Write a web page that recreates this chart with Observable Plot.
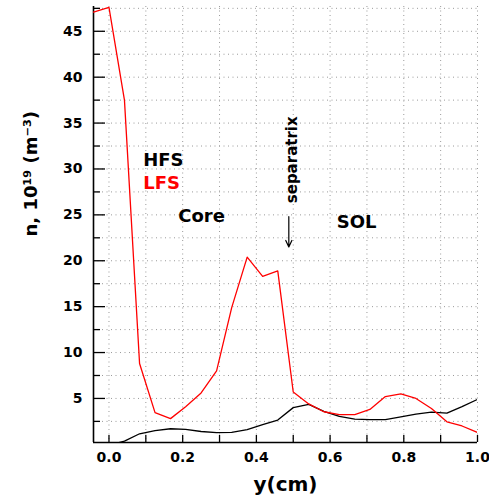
<!DOCTYPE html>
<html>
<head>
<meta charset="utf-8">
<script src="https://cdn.jsdelivr.net/npm/d3@7"></script>
<script src="https://cdn.jsdelivr.net/npm/@observablehq/plot@0.6"></script>
<style>
  html, body { margin: 0; padding: 0; background: #fff; }
  svg { display: block; }
</style>
</head>
<body>
<div id="chart"></div>
<script>
// radial position y (cm)
const yPos = [-0.042, 0, 0.042, 0.083, 0.125, 0.167, 0.208, 0.25, 0.292, 0.333, 0.375, 0.417, 0.458,
              0.5, 0.542, 0.583, 0.625, 0.667, 0.708, 0.75, 0.792, 0.833, 0.875, 0.917, 0.958, 1.0];
// density, 10^19 m^-3
const lfs = [47.1, 47.6, 37.5, 8.8, 3.45, 2.8, 4.1, 5.6, 8.0, 14.9, 20.4, 18.3, 18.9,
             5.7, 4.4, 3.55, 3.24, 3.24, 3.8, 5.2, 5.5, 5.0, 3.9, 2.45, 2.0, 1.3];
const hfs = [null, -0.1, 0.35, 1.15, 1.5, 1.7, 1.62, 1.4, 1.27, 1.3, 1.6, 2.15, 2.65,
             4.0, 4.36, 3.6, 3.05, 2.75, 2.69, 2.69, 3.0, 3.3, 3.52, 3.4, 4.1, 4.9];

const xTickLabels = [0, 0.2, 0.4, 0.6, 0.8, 1.0];
const xTicks = [0, 0.1, 0.2, 0.3, 0.4, 0.5, 0.6, 0.7, 0.8, 0.9, 1.0];
const yTickLabels = [5, 10, 15, 20, 25, 30, 35, 40, 45];
const yMinorTicks = [2.5, 7.5, 12.5, 17.5, 22.5, 27.5, 32.5, 37.5, 42.5, 47.5];
const yGrid = [2.5, 5, 7.5, 10, 12.5, 15, 17.5, 20, 22.5, 25, 27.5, 30, 32.5, 35, 37.5, 40, 42.5, 45, 47.5];

const legendLabels = [{text: "HFS", color: "#000000", x: 0.093, y: 31.0},
                      {text: "LFS", color: "#ff0000", x: 0.093, y: 28.5}];
const regionLabels = [{text: "Core", x: 0.188, y: 24.8}, {text: "SOL", x: 0.618, y: 24.2}];
const separatrix = [{text: "separatrix", x: 0.497, y: 31.0, y1: 24.8, y2: 21.5, xa: 0.488}];

const hfsData = yPos.map((x, i) => ({x, n: hfs[i]}));
const lfsData = yPos.map((x, i) => ({x, n: lfs[i]}));

const W = 489, H = 502;
const mL = 93, mR = 12, mT = 6, mB = 60;
const plotW = W - mL - mR, plotH = H - mT - mB;

const chart = Plot.plot({
  width: W,
  height: H,
  marginLeft: mL,
  marginRight: mR,
  marginTop: mT,
  marginBottom: mB,
  style: {fontFamily: "'DejaVu Sans', sans-serif", background: "#fff", color: "#000", overflow: "visible"},
  x: {domain: [-0.042, 1.0], axis: null},
  y: {domain: [0.2, 47.7], axis: null},
  marks: [
    Plot.gridX(xTicks, {stroke: "#9a9a9a", strokeOpacity: 1, strokeDasharray: "1,3.5", strokeWidth: 1}),
    Plot.gridY(yGrid, {stroke: "#9a9a9a", strokeOpacity: 1, strokeDasharray: "1,3.5", strokeWidth: 1}),
    // inward ticks
    Plot.ruleX(xTicks, {stroke: "#000", strokeWidth: 1.3, insetTop: plotH - 7}),
    Plot.ruleY(yTickLabels, {stroke: "#000", strokeWidth: 1.3, insetRight: plotW - 12}),
    Plot.ruleY(yMinorTicks, {stroke: "#000", strokeWidth: 1.3, insetRight: plotW - 7}),
    // axis lines
    Plot.ruleX([-0.042], {stroke: "#000", strokeWidth: 1.6}),
    Plot.ruleY([0.2], {stroke: "#000", strokeWidth: 1.6}),
    // tick labels
    Plot.axisX({ticks: xTickLabels, tickSize: 0, tickPadding: 10, tickFormat: d3.format(".1f"),
                fontSize: 14, fontWeight: "bold", label: null, ariaLabel: "xticklabels"}),
    Plot.axisY({ticks: yTickLabels, tickSize: 0, tickPadding: 11, fontSize: 14,
                fontWeight: "bold", label: null, ariaLabel: "yticklabels"}),
    // series
    Plot.line(hfsData, {x: "x", y: "n", stroke: "#000", strokeWidth: 1.3, clip: true}),
    Plot.line(lfsData, {x: "x", y: "n", stroke: "#ff0000", strokeWidth: 1.3, clip: true}),
    // annotations
    Plot.text(legendLabels, {x: "x", y: "y", text: "text", fill: "color", textAnchor: "start",
                             fontSize: 18, fontWeight: "bold", ariaLabel: "annot"}),
    Plot.text(regionLabels, {x: "x", y: "y", text: "text", fill: "#000", textAnchor: "start",
                             fontSize: 18, fontWeight: "bold", ariaLabel: "annot"}),
    Plot.text(separatrix, {x: "x", y: "y", text: "text", rotate: -90, fill: "#000",
                           fontSize: 15, fontWeight: "bold", ariaLabel: "sep"}),
    Plot.arrow(separatrix, {x1: "xa", x2: "xa", y1: "y1", y2: "y2", stroke: "#000",
                            strokeWidth: 1.2, headLength: 9, headAngle: 50}),
    // axis titles
    Plot.text(["n, 10¹⁹ (m⁻³)"], {frameAnchor: "left", rotate: -90, dx: -62, dy: 12,
                                   fontSize: 18, fontWeight: "bold", fill: "#000", ariaLabel: "ylabel"}),
    Plot.text(["y(cm)"], {frameAnchor: "bottom", dy: 48, fontSize: 20, fontWeight: "bold",
                          fill: "#000", ariaLabel: "xlabel"})
  ]
});

document.getElementById("chart").appendChild(chart);
const svg = d3.select(chart);
svg.selectAll("g[aria-label='xticklabels'] text, g[aria-label='yticklabels'] text").style("letter-spacing", "2px");
svg.selectAll("g[aria-label='annot'] text").style("letter-spacing", "5px");
svg.selectAll("g[aria-label='sep'] text").style("letter-spacing", "2px");
svg.selectAll("g[aria-label='xlabel'] text").style("letter-spacing", "1.5px");
svg.selectAll("g[aria-label='ylabel'] text").style("letter-spacing", "0.5px");
</script>
</body>
</html>
